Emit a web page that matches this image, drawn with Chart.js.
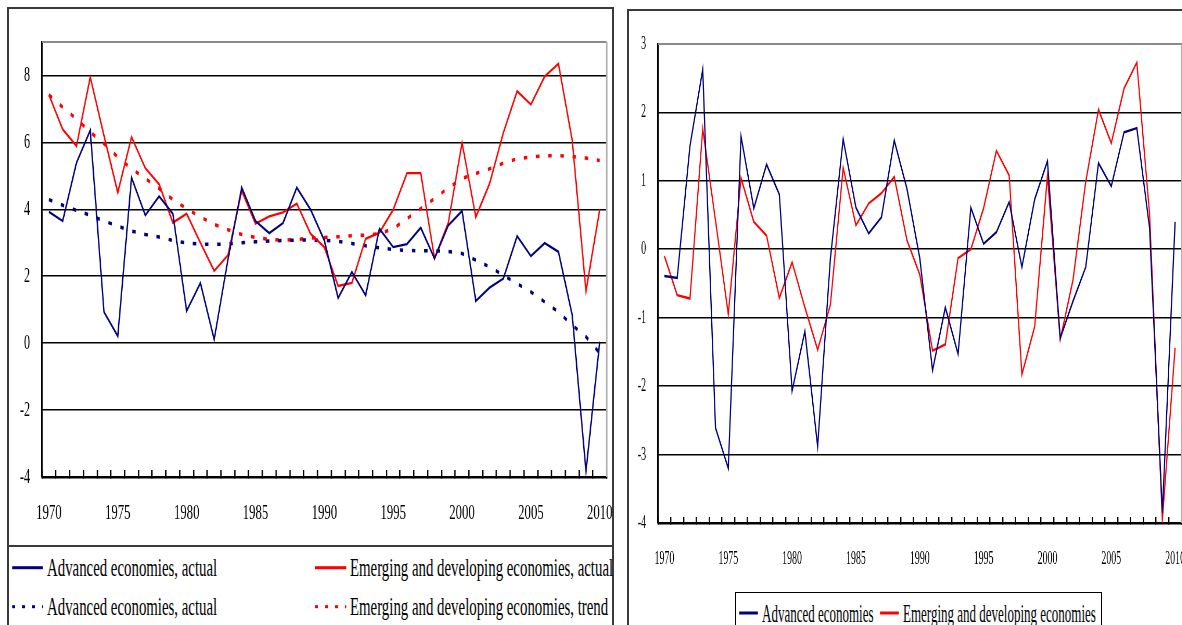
<!DOCTYPE html>
<html>
<head>
<meta charset="utf-8">
<script src="https://cdn.jsdelivr.net/npm/chart.js@4.4.1/dist/chart.umd.min.js"></script>
<style>
  body { margin: 0; width: 1182px; height: 625px; overflow: hidden; background: #fff; position: relative;
         font-family: "Liberation Serif", "Times New Roman", serif; color: #000; }
  .frame { position: absolute; border: 2px solid #3a3a3a; box-sizing: border-box; }
  .squash { position: absolute; transform-origin: 0 0; }
  .legend-item { position: absolute; display: flex; align-items: center; white-space: nowrap;
                 transform: translateY(-50%); line-height: 1; }
  .legend-line { display: inline-block; height: 3px; }
</style>
</head>
<body>
  <!-- left panel -->
  <div class="frame" style="left:7px; top:7px; width:607px; height:660px;"></div>
  <div style="position:absolute; left:7px; top:545px; width:607px; height:2px; background:#3a3a3a;"></div>
  <div class="squash" id="leftWrap" style="left:9px; top:9px; width:1039.7px; height:536px; transform:scaleX(0.58);">
    <canvas id="levelChart"></canvas>
  </div>
  <div class="squash" id="leftLegend" style="left:0; top:546px; width:1069px; height:79px; transform:scaleX(0.58);"></div>

  <!-- right panel -->
  <div class="frame" style="left:627px; top:9px; width:600px; height:660px;"></div>
  <div class="squash" id="rightWrap" style="left:629px; top:11px; width:1078.8px; height:579px; transform:scaleX(0.52);">
    <canvas id="gapChart"></canvas>
  </div>
  <div style="position:absolute; left:735px; top:592px; width:367px; height:60px; border:1.5px solid #000; box-sizing:border-box;"></div>
  <div class="squash" id="rightLegend" style="left:735px; top:592px; width:706px; height:33px; transform:scaleX(0.52);"></div>

<script>
const years = ["1970", "1971", "1972", "1973", "1974", "1975", "1976", "1977", "1978", "1979",
               "1980", "1981", "1982", "1983", "1984", "1985", "1986", "1987", "1988", "1989",
               "1990", "1991", "1992", "1993", "1994", "1995", "1996", "1997", "1998", "1999",
               "2000", "2001", "2002", "2003", "2004", "2005", "2006", "2007", "2008", "2009", "2010"];
const shownYears = ["1970", "1975", "1980", "1985", "1990", "1995", "2000", "2005", "2010"];

// left panel: growth, actual and trend
const leftYTicks = [-4, -2, 0, 2, 4, 6, 8];
const advActual = [3.92, 3.65, 5.39, 6.36, 0.93, 0.21, 4.95, 3.82, 4.39, 3.87,
                   0.96, 1.80, 0.11, 2.50, 4.65, 3.65, 3.29, 3.59, 4.65, 3.99,
                   3.07, 1.35, 2.13, 1.43, 3.42, 2.87, 2.96, 3.45, 2.53, 3.52,
                   3.95, 1.26, 1.66, 1.93, 3.20, 2.60, 2.99, 2.73, 0.84, -3.82, 0.04];
const emgActual = [7.42, 6.39, 5.89, 7.95, 6.20, 4.50, 6.16, 5.23, 4.75, 3.60,
                   3.87, 3.00, 2.16, 2.63, 4.55, 3.57, 3.79, 3.91, 4.17, 3.27,
                   2.87, 1.71, 1.80, 3.12, 3.30, 3.99, 5.08, 5.08, 2.53, 3.59,
                   5.99, 3.77, 4.77, 6.29, 7.53, 7.13, 7.97, 8.35, 6.06, 1.56, 4.00];
const advTrend = [4.29, 4.12, 3.97, 3.82, 3.65, 3.50, 3.35, 3.25, 3.17, 3.07,
                  2.99, 2.96, 2.95, 2.97, 3.00, 3.03, 3.05, 3.07, 3.08, 3.08,
                  3.07, 3.04, 2.98, 2.91, 2.85, 2.80, 2.77, 2.76, 2.76, 2.74,
                  2.68, 2.48, 2.28, 2.03, 1.78, 1.53, 1.23, 0.93, 0.54, 0.19, -0.30];
const emgTrend = [7.42, 7.05, 6.70, 6.31, 5.96, 5.56, 5.21, 4.92, 4.62, 4.29,
                  4.02, 3.77, 3.55, 3.39, 3.25, 3.16, 3.10, 3.07, 3.10, 3.14,
                  3.16, 3.18, 3.21, 3.23, 3.27, 3.42, 3.72, 4.02, 4.32, 4.64,
                  4.92, 5.07, 5.21, 5.38, 5.51, 5.56, 5.60, 5.60, 5.58, 5.53, 5.46];

// right panel: deviation from trend
const rightYTicks = [-4, -3, -2, -1, 0, 1, 2, 3];
const advDev = [-0.39, -0.42, 1.51, 2.63, -2.61, -3.20, 1.65, 0.60, 1.24, 0.80,
                -2.07, -1.20, -2.88, -0.13, 1.61, 0.61, 0.23, 0.47, 1.59, 0.88,
                -0.13, -1.77, -0.85, -1.53, 0.61, 0.08, 0.25, 0.69, -0.26, 0.73,
                1.29, -1.30, -0.76, -0.26, 1.26, 0.92, 1.71, 1.77, 0.31, -3.85, 0.40];
const emgDev = [-0.10, -0.67, -0.72, 1.76, 0.42, -0.95, 1.04, 0.40, 0.20, -0.71,
                -0.19, -0.85, -1.47, -0.81, 1.19, 0.35, 0.67, 0.82, 1.06, 0.13,
                -0.37, -1.48, -1.39, -0.13, 0.00, 0.60, 1.44, 1.08, -1.83, -1.13,
                1.07, -1.32, -0.45, 0.99, 2.04, 1.55, 2.35, 2.73, 0.51, -3.95, -1.44];

const BLUE = "#000080";
const RED = "#ff0000";
const FONT = '"Liberation Serif", "Times New Roman", serif';

// gray frame on the top and right of the plot area
const plotFrame = {
  id: "plotFrame",
  beforeDatasetsDraw(chart) {
    const { ctx, chartArea: a } = chart;
    ctx.save();
    ctx.strokeStyle = "#8a8a8a";
    ctx.lineWidth = 2;
    ctx.beginPath();
    ctx.moveTo(a.left, a.top);
    ctx.lineTo(a.right, a.top);
    ctx.stroke();
    ctx.strokeStyle = "#b0b0b0";
    ctx.lineWidth = 3;
    ctx.beginPath();
    ctx.moveTo(a.right, a.top);
    ctx.lineTo(a.right, a.bottom);
    ctx.stroke();
    ctx.restore();
  }
};

function solid(label, data, color) {
  return { label: label, data: data, borderColor: color, backgroundColor: color, borderWidth: 2.4, pointRadius: 0, fill: false };
}
function dotted(label, data, color) {
  return { label: label, data: data, borderColor: color, backgroundColor: color, borderWidth: 3.5,
           borderDash: [6, 15], borderCapStyle: "butt", pointRadius: 0, fill: false };
}

function createChart(canvasId, cfg) {
  const ctx = document.getElementById(canvasId).getContext("2d");
  return new Chart(ctx, {
    type: "line",
    data: { labels: years, datasets: cfg.datasets },
    options: {
      responsive: true,
      maintainAspectRatio: false,
      animation: false,
      layout: { padding: { top: cfg.padTop, right: cfg.padRight, left: 0, bottom: 0 } },
      plugins: { legend: { display: false }, tooltip: { enabled: false } },
      elements: { line: { tension: 0 } },
      scales: {
        x: {
          type: "category",
          offset: true,
          grid: { offset: true, drawOnChartArea: false, drawTicks: true, tickLength: -cfg.tickLen, color: "#000", lineWidth: 2.4 },
          border: { color: "#000", width: 2.5 },
          ticks: {
            autoSkip: false, maxRotation: 0, minRotation: 0, padding: cfg.xPad, color: "#000",
            font: { family: FONT, size: cfg.xFont },
            callback: (v, i) => shownYears.includes(years[i]) ? years[i] : ""
          },
          // edge labels may hang over the frame, as in the original
          afterFit: s => { s.height = cfg.xHeight; s.paddingLeft = 0; s.paddingRight = 0; }
        },
        y: {
          min: cfg.yTicks[0],
          max: cfg.yMax,
          afterBuildTicks: s => { s.ticks = cfg.yTicks.map(v => ({ value: v })); },
          grid: { color: "#000", lineWidth: 1.6, drawTicks: false },
          border: { color: "#000", width: 3 },
          ticks: { padding: cfg.yPad, color: "#000", font: { family: FONT, size: cfg.yFont }, callback: v => String(v) },
          afterFit: s => { s.width = cfg.yWidth; s.paddingTop = 0; s.paddingBottom = 0; }
        }
      }
    },
    plugins: [plotFrame]
  });
}

function buildLegend(chart, boxId, layout) {
  const box = document.getElementById(boxId);
  chart.data.datasets.forEach((ds, i) => {
    const item = document.createElement("div");
    item.className = "legend-item";
    item.style.left = (layout.x[i] / layout.s) + "px";
    item.style.top = layout.y[i] + "px";
    item.style.fontSize = layout.font + "px";
    const line = document.createElement("span");
    line.className = "legend-line";
    line.style.width = (layout.sample / layout.s) + "px";
    line.style.marginRight = (layout.gap / layout.s) + "px";
    if (ds.borderDash) {
      const on = 3.3 / layout.s, period = 10 / layout.s;
      line.style.background = `repeating-linear-gradient(to right, ${ds.borderColor} 0 ${on}px, transparent ${on}px ${period}px)`;
    } else {
      line.style.background = ds.borderColor;
    }
    const text = document.createElement("span");
    text.textContent = ds.label;
    item.append(line, text);
    box.appendChild(item);
  });
}

document.addEventListener("DOMContentLoaded", function () {
  const levelChart = createChart("levelChart", {
    datasets: [
      solid("Advanced economies, actual", advActual, BLUE),
      solid("Emerging and developing economies, actual", emgActual, RED),
      dotted("Advanced economies, actual", advTrend, BLUE),
      dotted("Emerging and developing economies, trend", emgTrend, RED)
    ],
    yTicks: leftYTicks, yMax: 9,
    padTop: 33, padRight: 10.3,
    yWidth: 56.9, yPad: 20.7, yFont: 21,
    xHeight: 68, xPad: 30, xFont: 22, tickLen: 7
  });

  const gapChart = createChart("gapChart", {
    datasets: [
      solid("Advanced economies", advDev, BLUE),
      solid("Emerging and developing economies", emgDev, RED)
    ],
    yTicks: rightYTicks, yMax: 3,
    padTop: 33, padRight: 17.3,
    yWidth: 55.8, yPad: 23, yFont: 19,
    xHeight: 67, xPad: 30.5, xFont: 19, tickLen: 6
  });

  buildLegend(levelChart, "leftLegend", { s: 0.58, font: 25.6, sample: 31, gap: 4, x: [12, 315, 12, 315], y: [22, 22, 61, 61] });
  buildLegend(gapChart, "rightLegend", { s: 0.52, font: 25, sample: 19, gap: 4, x: [4, 145], y: [21, 21] });
});
</script>
</body>
</html>
